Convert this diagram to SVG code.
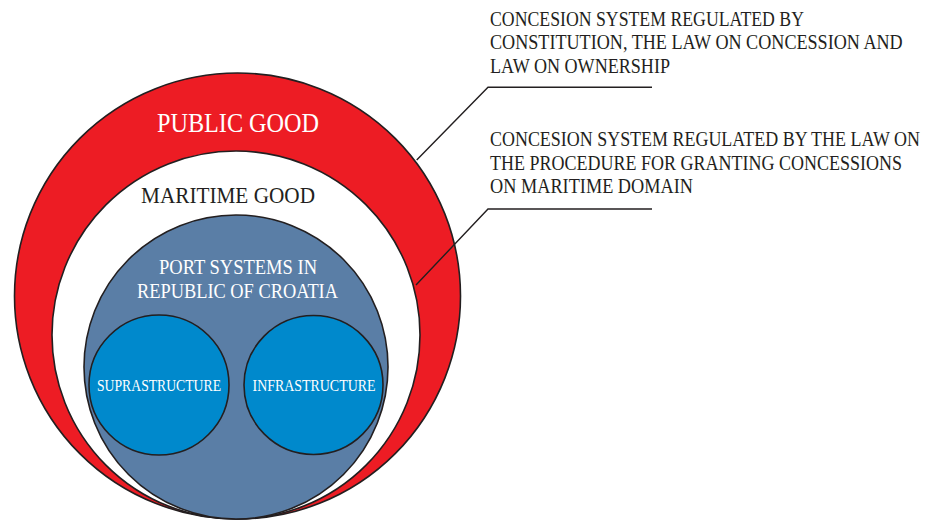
<svg xmlns="http://www.w3.org/2000/svg" width="936" height="520" viewBox="0 0 936 520">
<style>
.ring{stroke:#231f20;stroke-width:1.6}
.t{font-family:"Liberation Serif","Times New Roman",serif}
.w{fill:#ffffff}
.k{fill:#231f20}
.conn{fill:none;stroke:#231f20;stroke-width:1.4}
</style>
<rect width="936" height="520" fill="#ffffff"/>
<g id="public-good">
<circle class="ring" cx="237.5" cy="296" r="223" fill="#ed1c24"/>
<text class="t w" x="238" y="132" font-size="27" text-anchor="middle" textLength="162" lengthAdjust="spacingAndGlyphs">PUBLIC GOOD</text>
</g>
<g id="maritime-good">
<circle class="ring" cx="236" cy="335" r="184" fill="#ffffff"/>
<text class="t k" x="228" y="203" font-size="23.5" text-anchor="middle" textLength="174" lengthAdjust="spacingAndGlyphs">MARITIME GOOD</text>
</g>
<g id="port-systems">
<circle class="ring" cx="236" cy="367" r="152" fill="#5a7ea6"/>
<text class="t w" x="238" y="274" font-size="21.5" text-anchor="middle" textLength="158" lengthAdjust="spacingAndGlyphs">PORT SYSTEMS IN</text>
<text class="t w" x="237.5" y="298" font-size="21.5" text-anchor="middle" textLength="201" lengthAdjust="spacingAndGlyphs">REPUBLIC OF CROATIA</text>
</g>
<g id="suprastructure">
<circle class="ring" cx="159" cy="385" r="70" fill="#0089cc"/>
<text class="t w" x="159" y="391" font-size="17" text-anchor="middle" textLength="124" lengthAdjust="spacingAndGlyphs">SUPRASTRUCTURE</text>
</g>
<g id="infrastructure">
<circle class="ring" cx="313.5" cy="385" r="69.5" fill="#0089cc"/>
<text class="t w" x="314" y="391" font-size="17" text-anchor="middle" textLength="123" lengthAdjust="spacingAndGlyphs">INFRASTRUCTURE</text>
</g>
<g id="connectors">
<polyline class="conn" points="652,87.3 488,87.3 416.7,160"/>
<polyline class="conn" points="652,209 488,209 416,285"/>
</g>
<g id="label-public" transform="translate(490,0) scale(0.86,1)">
<text class="t k" x="0" y="25.7" font-size="21" textLength="365.1" lengthAdjust="spacingAndGlyphs">CONCESION SYSTEM REGULATED BY</text>
<text class="t k" x="0" y="49.3" font-size="21" textLength="479.9" lengthAdjust="spacingAndGlyphs">CONSTITUTION, THE LAW ON CONCESSION AND</text>
<text class="t k" x="0" y="72.7" font-size="21" textLength="209.3" lengthAdjust="spacingAndGlyphs">LAW ON OWNERSHIP</text>
</g>
<g id="label-maritime" transform="translate(490,0) scale(0.86,1)">
<text class="t k" x="0" y="145.7" font-size="21" textLength="500" lengthAdjust="spacingAndGlyphs">CONCESION SYSTEM REGULATED BY THE LAW ON</text>
<text class="t k" x="0" y="169.7" font-size="21" textLength="479.1" lengthAdjust="spacingAndGlyphs">THE PROCEDURE FOR GRANTING CONCESSIONS</text>
<text class="t k" x="0" y="193.3" font-size="21" textLength="236" lengthAdjust="spacingAndGlyphs">ON MARITIME DOMAIN</text>
</g>
</svg>
